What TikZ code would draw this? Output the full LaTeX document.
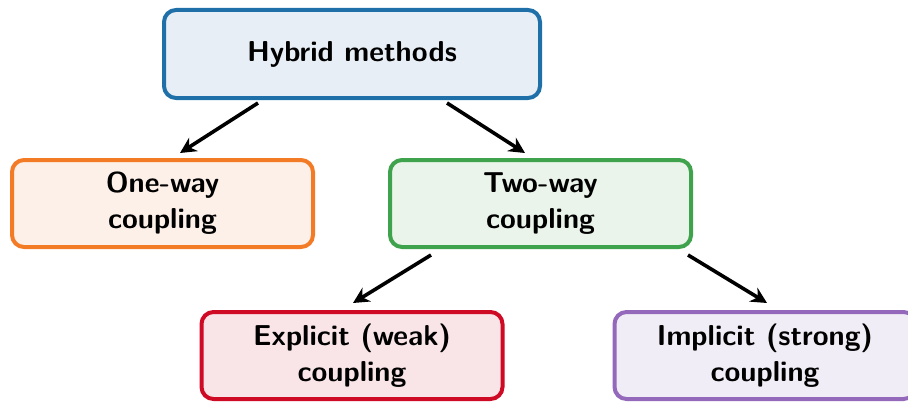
\documentclass[tikz,border=0pt]{standalone}
\usetikzlibrary{arrows.meta,calc}
\definecolor{cblue}{HTML}{1F6FA8}
\definecolor{fblue}{HTML}{E8EEF5}
\definecolor{corange}{HTML}{F47B25}
\definecolor{forange}{HTML}{FDF0E8}
\definecolor{cgreen}{HTML}{3FA34D}
\definecolor{fgreen}{HTML}{EAF4EA}
\definecolor{cred}{HTML}{CF0A25}
\definecolor{fred}{HTML}{F9E4E7}
\definecolor{cpurple}{HTML}{9468BB}
\definecolor{fpurple}{HTML}{F1EDF6}
\tikzset{
  box/.style={draw, line width=2pt, rounded corners=6pt, align=center,
    font=\sffamily\bfseries\Large, minimum width=150.5pt, minimum height=43.5pt,
    inner sep=0pt},
  arr/.style={line width=1.8pt, -{Stealth[length=8pt,width=8pt]}}
}
\begin{document}
\begin{tikzpicture}[x=0.5pt,y=-0.5pt]
\useasboundingbox (0,0) rectangle (908,401);
\begin{scope}
\clip (0,0) rectangle (908,401);
\node[box, draw=cblue, fill=fblue, minimum width=188pt, minimum height=44pt] (hybrid) at (352,54) {Hybrid methods};
\node[box, draw=corange, fill=forange] (oneway) at (162.5,203.5) {One-way\\coupling};
\node[box, draw=cgreen, fill=fgreen] (twoway) at (540.5,203.5) {Two-way\\coupling};
\node[box, draw=cred, fill=fred] (explicit) at (352,355.5) {Explicit (weak)\\coupling};
\node[box, draw=cpurple, fill=fpurple] (implicit) at (765,355.5) {Implicit (strong)\\coupling};
\end{scope}
\draw[arr] ($(hybrid.south)+(-94,3)$) -- ($(oneway.north)+(17.5,-5)$);
\draw[arr] ($(hybrid.south)+(95,3)$) -- ($(twoway.north)+(-15.5,-5)$);
\draw[arr] ($(twoway.south)+(-109.5,6)$) -- ($(explicit.north)+(1,-7)$);
\draw[arr] ($(twoway.south)+(147.5,6)$) -- ($(implicit.north)+(2,-7)$);
\end{tikzpicture}
\end{document}
